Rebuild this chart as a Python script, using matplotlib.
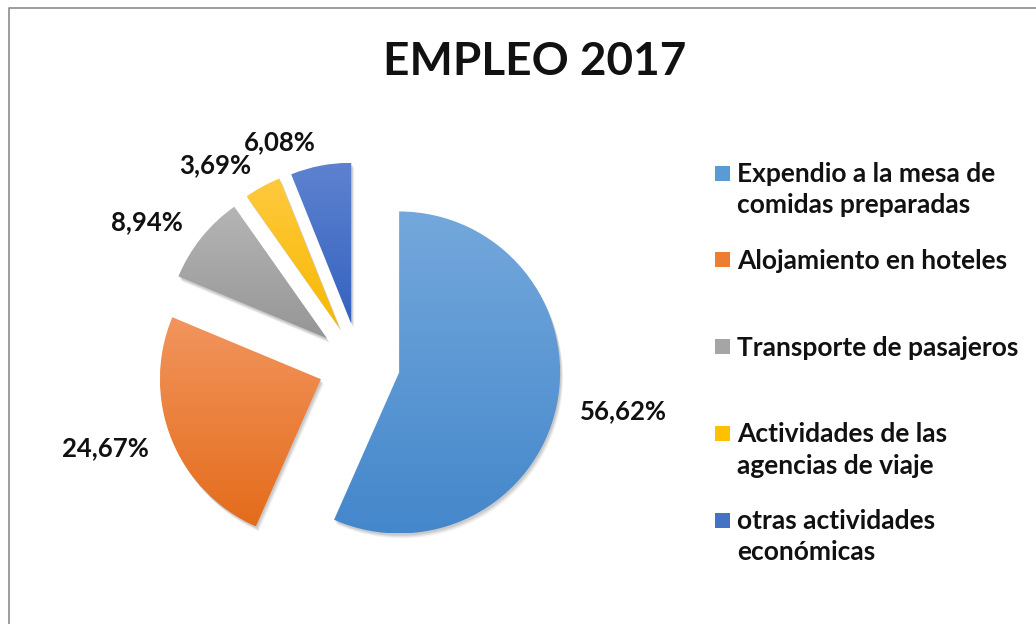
import numpy as np
import matplotlib
matplotlib.use("Agg")
import matplotlib.pyplot as plt
import matplotlib.patches as mpatches
from matplotlib.colors import LinearSegmentedColormap

# data
categorias = ["Expendio a la mesa de\ncomidas preparadas",
              "Alojamiento en hoteles",
              "Transporte de pasajeros",
              "Actividades de las\nagencias de viaje",
              "otras actividades\neconómicas"]
porcentajes = [56.62, 24.67, 8.94, 3.69, 6.08]
# gradient colours (top, bottom) and legend colour for each slice
color_top = ["#74a8dc", "#f2955e", "#b5b5b5", "#ffc93f", "#5e82d0"]
color_bottom = ["#4487cb", "#e46c1b", "#969696", "#f7b900", "#3363bf"]
color_legend = ["#5b9bd5", "#ed7d31", "#a5a5a5", "#ffc000", "#4472c4"]

plt.rcParams['font.family'] = ['Lato', 'DejaVu Sans']

W, H = 1036, 624
fig = plt.figure(figsize=(W / 100, H / 100), dpi=100)
ax = fig.add_axes([0, 0, 1, 1])

etiquetas = [f"{v:.2f}%".replace(".", ",") for v in porcentajes]
wedges, texts = ax.pie(porcentajes, startangle=90, counterclock=False,
                       explode=[41] * len(porcentajes), radius=161,
                       center=(359, H - 364), labels=etiquetas,
                       labeldistance=1.15,
                       textprops=dict(fontsize=18.5, fontweight="bold", color="#111111"))

# soft shadow + vertical gradient for every slice
grad = np.linspace(0, 1, 256).reshape(-1, 1)
for w, t, ct, cb in zip(wedges, texts, color_top, color_bottom):
    w.set_facecolor("none")
    w.set_edgecolor("none")
    cx, cy = w.center
    # labels on the left side of the pie are right aligned
    mid = np.deg2rad((w.theta1 + w.theta2) / 2)
    t.set_ha("left" if np.cos(mid) > 0 else "right")
    for k, a in [(5, 0.04), (4, 0.05), (3, 0.06), (2, 0.07)]:
        sh = mpatches.Wedge((cx + k * 0.6, cy - k), w.r, w.theta1, w.theta2,
                            facecolor="black", edgecolor="none", alpha=a, zorder=1)
        ax.add_patch(sh)
    bb = w.get_path().get_extents(w.get_patch_transform())
    cmap = LinearSegmentedColormap.from_list("g", [cb, ct])
    im = ax.imshow(grad, cmap=cmap, origin="lower", aspect="auto",
                   extent=[bb.x0, bb.x1, bb.y0, bb.y1], zorder=2)
    im.set_clip_path(w)

# title
ax.text(535, H - 62, "EMPLEO 2017", fontsize=33, fontweight="bold",
        ha="center", va="center", color="#111111")

# legend drawn by hand
for i, (cat, col) in enumerate(zip(categorias, color_legend)):
    y = H - (173 + i * 86.8)
    ax.add_patch(mpatches.Rectangle((715, y - 7.5), 15, 15, facecolor=col,
                                    edgecolor="none"))
    ax.text(737, y + 11, cat, fontsize=19, fontweight="bold", color="#111111",
            ha="left", va="top", linespacing=1.36)

# chart frame
ax.plot([9, 9, W + 5], [-5, H - 8, H - 8], color="#8c8c8c", lw=1.2, clip_on=False)

ax.set_xlim(0, W)
ax.set_ylim(0, H)
ax.set_aspect("equal")
ax.axis("off")
fig.savefig("out.png", dpi=100)
